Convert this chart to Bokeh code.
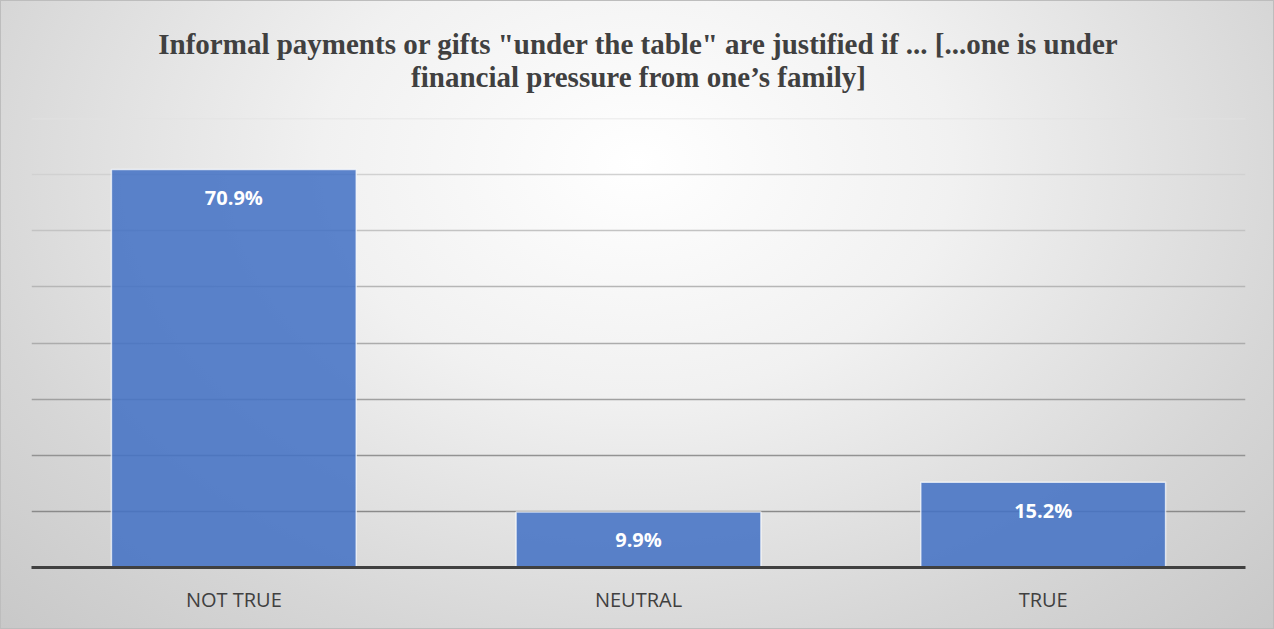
from bokeh.plotting import figure
from bokeh.models import Range1d, FactorRange, ColumnDataSource, Title
from bokeh.core.properties import value
from bokeh.embed import file_html
from bokeh.resources import INLINE

# ---- data ----
categories = ["NOT TRUE", "NEUTRAL", "TRUE"]
percentages = [70.9, 9.9, 15.2]
grid_values = [10, 20, 30, 40, 50, 60, 70, 80]
title_lines = ["Informal payments or gifts \"under the table\" are justified if ... [...one is under",
               "financial pressure from one\u2019s family]"]

# ---- styles ----
grid_colors = ["#8a8a8a", "#939393", "#a0a0a0", "#acacac", "#b6b6b6", "#c3c3c3", "#d1d1d1", "#e2e2e2"]
bar_color = "#4472C4"

src = ColumnDataSource(dict(cat=categories, val=percentages,
                            lab=[f"{v:.1f}%" for v in percentages]))

p = figure(width=1274, height=629, output_backend="svg", toolbar_location=None,
           x_range=FactorRange(*categories, range_padding=0), y_range=Range1d(0, 80),
           y_axis_location=None, min_border_left=31, min_border_right=29,
           min_border_top=0, min_border_bottom=62)

p.background_fill_alpha = 0
p.border_fill_alpha = 0
p.outline_line_color = None
p.styles = {
    "background": "radial-gradient(ellipse farthest-corner at 50% 26%, #ffffff 0%, #f1f1f1 35%, #d6d6d6 75%, #c8c8c8 100%)",
    "box-shadow": "inset 0 0 0 1px #bdbdbd",
}

p.title = None
t1 = Title(text="\n".join(title_lines), standoff=50, align="center", text_align="center",
           text_font="Liberation Serif", text_font_size="29px", text_font_style="bold",
           text_color="#404040", text_line_height=1.05)
p.add_layout(t1, "above")

p.xgrid.grid_line_color = None
p.ygrid.grid_line_color = None

p.hspan(y=grid_values, line_color=grid_colors, line_width=1.3)

p.vbar(x="cat", top="val", width=0.605, source=src, fill_color=bar_color, fill_alpha=0.87,
       line_color="white", line_alpha=0.7, line_width=1.5)

p.text(x="cat", y="val", text="lab", source=src, y_offset=28, text_align="center",
       text_baseline="middle", text_color="white", text_font=value("Open Sans"),
       text_font_style="bold", text_font_size="20px")

ax = p.xaxis[0]
ax.axis_line_color = "#404040"
ax.axis_line_width = 3
ax.major_tick_line_color = None
ax.minor_tick_line_color = None
ax.major_tick_out = 0
ax.major_tick_in = 0
ax.major_label_standoff = 18
ax.major_label_text_font = "Open Sans"
ax.major_label_text_font_size = "20px"
ax.major_label_text_color = "#404040"

open("out.html", "w").write(file_html(p, INLINE))
